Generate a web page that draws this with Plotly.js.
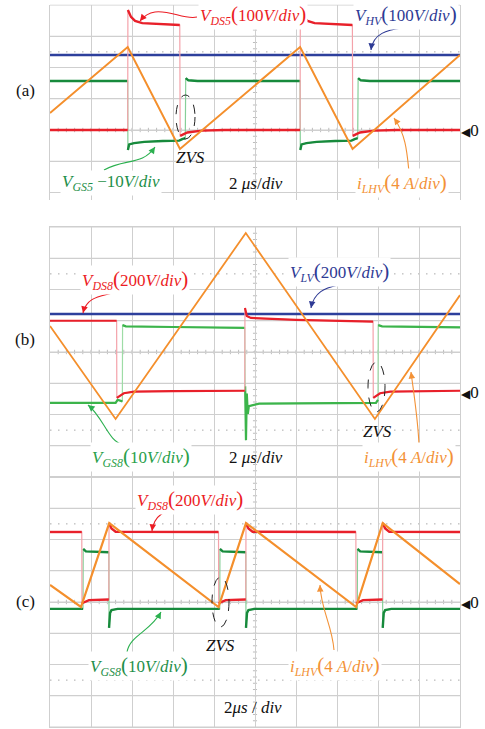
<!DOCTYPE html>
<html>
<head>
<meta charset="utf-8">
<script src="https://cdn.plot.ly/plotly-3.0.1.min.js"></script>
<style>
html,body{margin:0;padding:0;background:#fff}
#chart{width:485px;height:729px}
</style>
</head>
<body>
<div id="chart"></div>
<script>
// ---------- (a) waveforms: time in µs, voltages in V, current in A ----------
const tA_vds5 = [0, 3.79, 3.80, 3.95, 4.15, 4.5, 6.33, 6.35, 6.5, 6.7, 7.4, 8.5, 12.2, 12.21, 12.36, 12.56, 12.91, 14.75, 14.77, 14.92, 15.12, 15.8, 16.9, 20];
const vA_vds5 = [0, 0, 384, 362, 349, 342, 336, -19, -14, -8, -2, 0, 0, 384, 362, 349, 342, 336, -19, -14, -8, -2, 0, 0];
const tA_vhv = [0, 20];
const vA_vhv = [240, 240];
const tA_vgs5 = [0, 3.79, 3.80, 3.86, 4.1, 4.6, 5.5, 6.3, 6.45, 6.60, 6.62, 6.75, 7.2, 12.2, 12.21, 12.27, 12.51, 13.01, 13.91, 14.71, 14.86, 15.01, 15.03, 15.16, 15.6, 20];
const vA_vgs5 = [15.7, 15.7, -6.4, -4.6, -4.2, -3.8, -3.5, -3.4, -2.9, -2.6, 16.6, 15.9, 15.7, 15.7, -6.4, -4.6, -4.2, -3.8, -3.5, -3.4, -2.9, -2.6, 16.6, 15.9, 15.7, 15.7];
const tA_ilhv = [0, 3.79, 6.34, 12.2, 14.76, 20];
const iA_ilhv = [2.18, 10.62, -2.43, 10.62, -2.43, 9.6];

// ---------- (b) waveforms ----------
const tB_vds8 = [0, 3.25, 3.26, 3.4, 3.6, 4.1, 6, 9.5, 9.51, 9.6, 9.8, 12, 15.76, 15.77, 15.9, 16.1, 16.6, 18, 20];
const vB_vds8 = [456, 456, -38, -25, -8, 2, 6, 8, 538, 486, 474, 462, 450, -38, -25, -8, 2, 6, 8];
const tB_vlv = [0, 20];
const vB_vlv = [499, 499];
const tB_vgs8 = [0, 3.2, 3.3, 3.45, 3.53, 3.54, 3.7, 6, 9.5, 9.52, 9.56, 9.6, 9.65, 9.7, 10.2, 15.9, 15.98, 16.0, 16.01, 16.2, 20];
const vB_vgs8 = [-3.5, -3.5, -2.5, -3.0, -3.0, 21.4, 21.0, 20.8, 20.5, 1.8, -15.4, -0.5, -7, -4.5, -3.7, -3.5, -2.5, -2.5, 21.4, 21.0, 20.7];
const tB_ilhv = [0, 3.20, 9.55, 15.85, 20];
const iB_ilhv = [8.45, -3.46, 20.35, -3.46, 12.4];

// ---------- (c) waveforms ----------
const tC_vds8 = [0, 1.55, 1.56, 1.9, 2.87, 2.88, 3.0, 3.2, 8.22, 8.23, 8.57, 9.55, 9.56, 9.68, 9.88, 14.92, 14.93, 15.27, 16.22, 16.23, 16.35, 16.55, 20];
const vC_vds8 = [448, 448, -8, 12, 16, 506, 470, 450, 448, -8, 12, 16, 506, 470, 450, 448, -8, 12, 16, 506, 470, 450, 448];
const tC_vgs8 = [0, 1.61, 1.62, 1.75, 2.87, 2.88, 2.93, 3.0, 3.3, 8.28, 8.29, 8.42, 9.55, 9.56, 9.61, 9.68, 9.98, 14.99, 15.0, 15.13, 16.22, 16.23, 16.28, 16.35, 16.65, 20];
const vC_vgs8 = [-2.2, -2.2, 17.0, 16.2, 15.9, -8.3, -3.5, -2.6, -2.2, -2.2, 17.0, 16.2, 15.9, -8.3, -3.5, -2.6, -2.2, -2.2, 17.0, 16.2, 15.9, -8.3, -3.5, -2.6, -2.2, -2.2];
const tC_ilhv = [0, 1.51, 2.89, 8.22, 9.56, 14.93, 16.23, 20];
const iC_ilhv = [2.18, -0.64, 10.1, -0.64, 10.1, -0.64, 10.1, 2.3];

// ---------- scope settings: units per division, channel zero (div from centre) ----------
const scaleA = {vds: 100, vgs: 10, i: 4, zero: 0};
const scaleB = {vds: 200, vgs: 10, i: 4, zero: -1.28};
const scaleC = {vds: 200, vgs: 10, i: 4, zero: 0};
const TIME_RANGE = [0, 20];   // 2 µs/div, 10 divisions

// ---------- page geometry ----------
const W = 485, H = 729, PX_DIV = 31.25;
const X0 = 50, X1 = 460;
const geomA = {top: 4.5, bottom: 200, center: 130};
const geomB = {top: 227, bottom: 477, center: 352};
const geomC = {top: 477, bottom: 727, center: 602};
const FONT = 'Liberation Serif';
const GRID = '#cfcfcf';

const gridRange = g => [(g.center - g.bottom) / PX_DIV, (g.center - g.top) / PX_DIV];
const domainOf = g => [1 - g.bottom / H, 1 - g.top / H];
const intsIn = r => { const out = []; for (let k = Math.ceil(r[0]); k <= Math.floor(r[1]); k++) out.push(k); return out; };

// vertical gain/offset of a scope channel: value -> screen divisions
const toDiv = (vals, perDiv, zero) => vals.map(v => (v === null ? null : v / perDiv + zero));

// a probe trace: thin pale line for the whole record, thick line for the settled parts
function channel(t, v, perDiv, zero, xa, ya, color, width, edgeColor) {
  const d = toDiv(v, perDiv, zero);
  const out = [];
  if (edgeColor) {
    out.push({x: t, y: d, xaxis: xa, yaxis: ya, mode: 'lines', hoverinfo: 'skip',
              line: {color: edgeColor, width: 1.2}});
    const tt = [], vv = [];
    for (let i = 0; i < t.length; i++) {
      tt.push(t[i]); vv.push(d[i]);
      if (i < t.length - 1 && t[i + 1] - t[i] <= 0.021 && Math.abs(d[i + 1] - d[i]) > 0.8) {
        tt.push(t[i]); vv.push(null);
      }
    }
    out.push({x: tt, y: vv, xaxis: xa, yaxis: ya, mode: 'lines', connectgaps: false, hoverinfo: 'skip',
              line: {color: color, width: width}});
  } else {
    out.push({x: t, y: d, xaxis: xa, yaxis: ya, mode: 'lines', hoverinfo: 'skip',
              line: {color: color, width: width}});
  }
  return out;
}

const RED = '#e8202a', RED_E = '#f4a2aa';
const BLUE = '#2d3f9c';
const GREEN_D = '#178a3c', GREEN_DE = '#86cf98';
const GREEN_L = '#3cb44b', GREEN_LE = '#9edca6';
const ORANGE = '#f48f2c';

const traces = [].concat(
  // (a)
  channel(tA_vhv, vA_vhv, scaleA.vds, scaleA.zero, 'x', 'y', BLUE, 2.6),
  channel(tA_vgs5, vA_vgs5, scaleA.vgs, scaleA.zero, 'x', 'y', GREEN_D, 2.4, GREEN_DE),
  channel(tA_vds5, vA_vds5, scaleA.vds, scaleA.zero, 'x', 'y', RED, 2.4, RED_E),
  channel(tA_ilhv, iA_ilhv, scaleA.i, scaleA.zero, 'x', 'y', ORANGE, 2),
  // (b)
  channel(tB_vlv, vB_vlv, scaleB.vds, scaleB.zero, 'x2', 'y2', BLUE, 2.6),
  channel(tB_vgs8, vB_vgs8, scaleB.vgs, scaleB.zero, 'x2', 'y2', GREEN_L, 2.2, GREEN_LE),
  channel(tB_vds8, vB_vds8, scaleB.vds, scaleB.zero, 'x2', 'y2', RED, 2.2, RED_E),
  channel(tB_ilhv, iB_ilhv, scaleB.i, scaleB.zero, 'x2', 'y2', ORANGE, 1.8),
  // (c)
  channel(tC_vgs8, vC_vgs8, scaleC.vgs, scaleC.zero, 'x3', 'y3', GREEN_D, 2.4, GREEN_DE),
  channel(tC_vds8, vC_vds8, scaleC.vds, scaleC.zero, 'x3', 'y3', RED, 2.4, RED_E),
  channel(tC_ilhv, iC_ilhv, scaleC.i, scaleC.zero, 'x3', 'y3', ORANGE, 2.2)
);

// ---------- axes: x in µs, y in screen divisions ----------
const TIME_TICKS = [0, 2, 4, 6, 8, 10, 12, 14, 16, 18, 20];
function timeAxis(anchor, border) {
  return {domain: [X0 / W, X1 / W], anchor: anchor, range: TIME_RANGE, tickmode: 'array', tickvals: TIME_TICKS,
          showgrid: true, gridcolor: GRID, gridwidth: 1, zeroline: false, ticks: '',
          showticklabels: false, showline: border, mirror: border, linecolor: GRID};
}
function gridAxis(g, anchor) {
  const r = gridRange(g);
  return {domain: domainOf(g), anchor: anchor, range: r, tickmode: 'array', tickvals: intsIn(r),
          showgrid: true, gridcolor: GRID, gridwidth: 1, zeroline: false, ticks: '',
          showticklabels: false, showline: true, mirror: true, linecolor: GRID};
}

// ---------- screen graticule ----------
const shapes = [], annotations = [];
[['x', 'y', geomA], ['x2', 'y2', geomB], ['x3', 'y3', geomC]].forEach(([xa, ya, g]) => {
  const r = gridRange(g);
  // horizontal division lines
  let h = '';
  intsIn(r).forEach(k => { h += `M${TIME_RANGE[0]},${k}L${TIME_RANGE[1]},${k}`; });
  shapes.push({type: 'path', xref: xa, yref: ya, path: h, layer: 'below', line: {color: GRID, width: 1}});
  // dotted reference lines at ±2.5 div
  [-2.5, 2.5].forEach(lv => { if (lv > r[0] && lv < r[1]) shapes.push({type: 'line', xref: xa, yref: ya,
    x0: TIME_RANGE[0], x1: TIME_RANGE[1], y0: lv, y1: lv, layer: 'below',
    line: {color: '#a9a9a9', width: 1, dash: '1.5px,6.5px'}}); });
  // minor ticks along the centre cross (0.2 div steps)
  let d = '';
  for (let k = 1; k < 50; k++) { const t = k * 0.4; d += `M${t},-0.07L${t},0.07`; }
  for (let k = Math.ceil(r[0] * 5) + 1; k < r[1] * 5; k++) { const y = k / 5; d += `M9.9,${y}L10.1,${y}`; }
  shapes.push({type: 'path', xref: xa, yref: ya, path: d, layer: 'below', line: {color: '#bdbdbd', width: 1}});
});

// ---------- labels ----------
const P = (x, y) => [x / W, 1 - y / H];
const par = s => '<span style="font-size:21px">' + s + '</span>';
function label(x, y, text, color, anchor, bg) {
  const p = P(x, y);
  return {xref: 'paper', yref: 'paper', x: p[0], y: p[1], xanchor: anchor || 'left', yanchor: 'middle',
          text: text, showarrow: false, font: {family: FONT, size: 17, color: color},
          bgcolor: bg ? '#ffffff' : 'rgba(0,0,0,0)', borderpad: 1};
}
// curved leader: cubic segments in page pixels, arrow head at the last point
function leader(pts, color) {
  let d = 'M' + P(pts[0], pts[1]).join(',');
  for (let i = 2; i < pts.length; i += 6) {
    d += ' C' + P(pts[i], pts[i + 1]).join(',') + ' ' + P(pts[i + 2], pts[i + 3]).join(',') + ' ' + P(pts[i + 4], pts[i + 5]).join(',');
  }
  shapes.push({type: 'path', xref: 'paper', yref: 'paper', path: d, line: {color: color, width: 1.1}});
  const n = pts.length;
  const ex = pts[n - 2], ey = pts[n - 1], cx = pts[n - 4], cy = pts[n - 3];
  const len = Math.hypot(cx - ex, cy - ey) || 1;
  const tip = P(ex, ey);
  annotations.push({xref: 'paper', yref: 'paper', x: tip[0], y: tip[1], text: '', showarrow: true,
                    ax: (cx - ex) / len * 7, ay: (cy - ey) / len * 7, arrowhead: 2, arrowsize: 1.2,
                    arrowwidth: 1.1, arrowcolor: color, standoff: 0});
}
function ellipse(x0, x1, y0, y1) {
  const a = P(x0, y1), b = P(x1, y0);
  shapes.push({type: 'circle', xref: 'paper', yref: 'paper', x0: a[0], x1: b[0], y0: a[1], y1: b[1],
               line: {color: '#222', width: 1, dash: 'dash'}});
}
const zeroMark = y => { const p = P(459, y); return {xref: 'paper', yref: 'paper', x: p[0], y: p[1], xanchor: 'left', yanchor: 'middle',
  showarrow: false, text: '<span style="font-size:12px;font-family:DejaVu Sans">◀</span>0', font: {family: FONT, size: 17, color: '#111'}}; };

const RED_T = '#ec1c24', BLUE_T = '#2e3a94', ORANGE_T = '#f39237';
const GREEN_TA = '#1f8f4a', GREEN_TB = '#2aa04a';
const divTxt = '<i>V</i>/<i>div</i>';

// (a)
annotations.push(label(25, 90, '(a)', '#111', 'center'));
annotations.push(label(198, 15, '<i>V</i><sub><i>DS5</i></sub>' + par('(') + '100' + divTxt + par(')'), RED_T, 'left', true));
annotations.push(label(353, 15, '<i>V</i><sub><i>HV</i></sub>' + par('(') + '100' + divTxt + par(')'), BLUE_T, 'left', true));
annotations.push(label(60, 183, '<i>V</i><sub><i>GS5</i></sub> −10' + divTxt, GREEN_TA, 'left', true));
annotations.push(label(190, 157, '<i>ZVS</i>', '#111', 'center'));
annotations.push(label(256, 183, '2 <i>μs</i>/<i>div</i>', '#111', 'center'));
annotations.push(label(355, 183, '<i>i</i><sub><i>LHV</i></sub>' + par('(') + '4 <i>A</i>/<i>div</i>' + par(')'), ORANGE_T, 'left', true));
annotations.push(zeroMark(130));
leader([197, 17, 185, 20, 170, 10, 155, 12, 148, 13, 144, 16, 140, 21], RED_T);
leader([402, 28, 388, 30, 373, 33, 371, 50], BLUE_T);
leader([104, 170, 125, 158, 142, 166, 155, 147], '#2bb04f');
leader([409, 172, 407, 152, 406, 135, 394, 118], ORANGE_T);
ellipse(176, 195, 95, 139);

// (b)
annotations.push(label(25, 340, '(b)', '#111', 'center'));
annotations.push(label(80, 280, '<i>V</i><sub><i>DS8</i></sub>' + par('(') + '200' + divTxt + par(')'), RED_T, 'left', true));
annotations.push(label(288, 272, '<i>V</i><sub><i>LV</i></sub>' + par('(') + '200' + divTxt + par(')'), BLUE_T, 'left', true));
annotations.push(label(90, 457, '<i>V</i><sub><i>GS8</i></sub>' + par('(') + '10' + divTxt + par(')'), GREEN_TB, 'left', true));
annotations.push(label(256, 457, '2 <i>μs</i>/<i>div</i>', '#111', 'center'));
annotations.push(label(377, 431, '<i>ZVS</i>', '#111', 'center'));
annotations.push(label(362, 457, '<i>i</i><sub><i>LHV</i></sub>' + par('(') + '4 <i>A</i>/<i>div</i>' + par(')'), ORANGE_T, 'left', true));
annotations.push(zeroMark(392));
leader([125, 288, 108, 298, 88, 292, 83, 313], RED_T);
leader([338, 285, 325, 288, 314, 292, 311, 308], BLUE_T);
leader([124, 445, 108, 442, 104, 418, 88, 405], '#2bb04f');
leader([419, 445, 418, 420, 414, 395, 411, 372], ORANGE_T);
ellipse(368, 385, 362, 412);

// (c)
annotations.push(label(25, 601, '(c)', '#111', 'center'));
annotations.push(label(135, 500, '<i>V</i><sub><i>DS8</i></sub>' + par('(') + '200' + divTxt + par(')'), RED_T, 'left', true));
annotations.push(label(88, 666, '<i>V</i><sub><i>GS8</i></sub>' + par('(') + '10' + divTxt + par(')'), GREEN_TA, 'left', true));
annotations.push(label(220, 645, '<i>ZVS</i>', '#111', 'center'));
annotations.push(label(288, 666, '<i>i</i><sub><i>LHV</i></sub>' + par('(') + '4 <i>A</i>/<i>div</i>' + par(')'), ORANGE_T, 'left', true));
annotations.push(label(253, 707, '2<i>μs</i> / <i>div</i>', '#111', 'center'));
annotations.push(zeroMark(602));
leader([180, 508, 165, 510, 154, 515, 152, 531], RED_T);
leader([127, 652, 130, 635, 150, 632, 161, 612], '#2bb04f');
leader([334, 650, 332, 625, 321, 610, 320, 585], ORANGE_T);
ellipse(212, 229, 577, 627);

const layout = {
  width: W, height: H, margin: {l: 0, r: 0, t: 0, b: 0},
  paper_bgcolor: '#ffffff', plot_bgcolor: '#ffffff', showlegend: false,
  xaxis: timeAxis('y', false),
  xaxis2: timeAxis('y2', true),
  xaxis3: timeAxis('y3', true),
  yaxis: gridAxis(geomA, 'x'),
  yaxis2: gridAxis(geomB, 'x2'),
  yaxis3: gridAxis(geomC, 'x3'),
  shapes: shapes,
  annotations: annotations
};

Plotly.newPlot('chart', traces, layout, {staticPlot: true, displayModeBar: false});
</script>
</body>
</html>
